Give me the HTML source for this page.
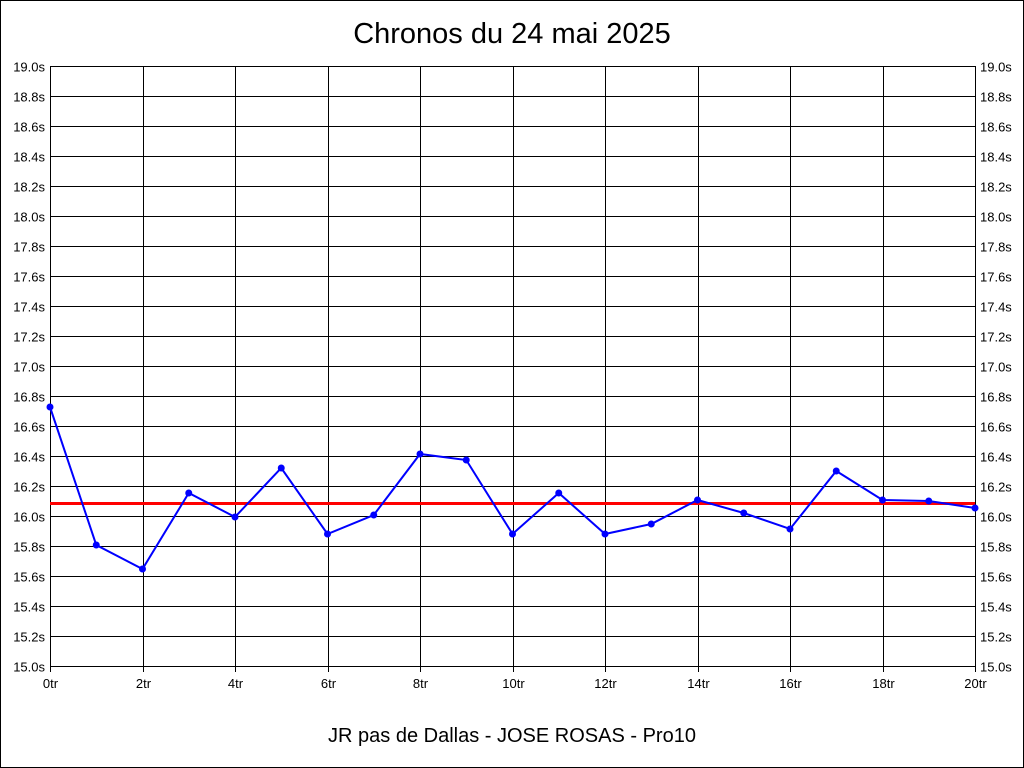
<!DOCTYPE html>
<html><head><meta charset="utf-8"><style>
html,body{margin:0;padding:0;background:#fff;}
svg{display:block;font-family:"Liberation Sans",Arial,sans-serif;}
</style></head><body>
<svg width="1024" height="768" viewBox="0 0 1024 768" xmlns="http://www.w3.org/2000/svg">
<rect x="0.5" y="0.5" width="1023" height="767" fill="#fff" stroke="#000"/>
<text x="512" y="43" text-anchor="middle" font-size="29">Chronos du 24 mai 2025</text>
<g id="grid" stroke="#000" stroke-width="1" shape-rendering="crispEdges"></g>
<g id="labels" font-size="13" fill="#000"></g>
<line x1="50" y1="503.5" x2="975" y2="503.5" stroke="#f00" stroke-width="3"/>
<polyline id="series" fill="none" stroke="#00f" stroke-width="2"/>
<g id="pts" fill="#00f"></g>
<text x="512" y="742" text-anchor="middle" font-size="20">JR pas de Dallas - JOSE ROSAS - Pro10</text>
</svg>
<script>
var ns="http://www.w3.org/2000/svg";
var g=document.getElementById('grid'),L=document.getElementById('labels');
function el(p,t,a,txt){var e=document.createElementNS(ns,t);for(var k in a)e.setAttribute(k,a[k]);if(txt)e.textContent=txt;p.appendChild(e);}
el(g,'rect',{x:50.5,y:66.5,width:925,height:600,fill:'none'});
for(var i=0;i<=20;i++){var y=66.5+i*30;el(g,'line',{x1:50,y1:y,x2:975,y2:y});
 var v=(19-i*0.2).toFixed(1)+'s';
 el(L,'text',{x:45,y:y+5,'text-anchor':'end'},v);
 el(L,'text',{x:980,y:y+5},v);}
for(var i=0;i<=10;i++){var x=Math.round(50+i*92.5)+0.5;el(g,'line',{x1:x,y1:66,x2:x,y2:672});
 el(L,'text',{x:x,y:688,'text-anchor':'middle'},(i*2)+'tr');}
var d=[407,545,569,493,517,468,534,515,454,460,534,493,534,524,500,513,529,471,500,501,508];
var pts=[],P=document.getElementById('pts');
d.forEach(function(y,i){var x=50+i*46.25;pts.push(x+','+y);el(P,'circle',{cx:x,cy:y,r:3.5});});
document.getElementById('series').setAttribute('points',pts.join(' '));
</script>
</body></html>
